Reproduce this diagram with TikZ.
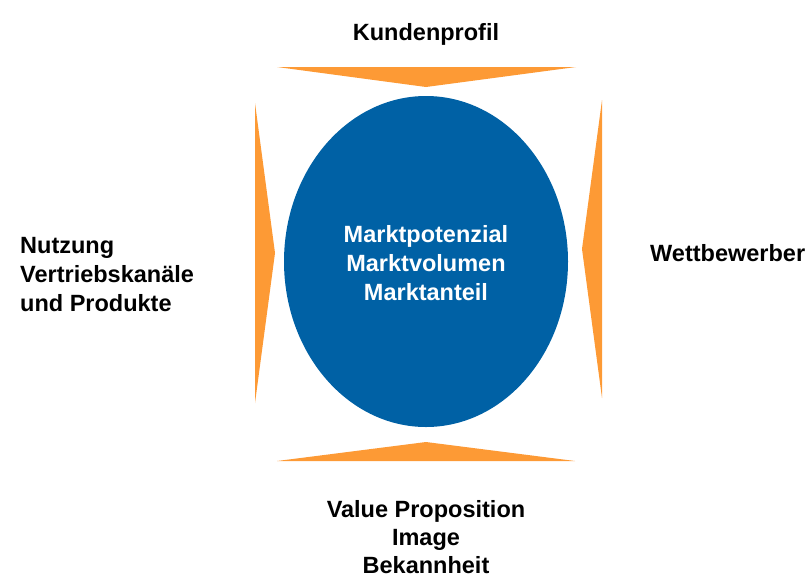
\documentclass[tikz,border=0pt]{standalone}
\usepackage{fontspec}
\setmainfont{Liberation Sans}
\definecolor{keilorange}{RGB}{253,154,53}
\definecolor{kreisblau}{RGB}{0,97,165}

\begin{document}
\begin{tikzpicture}[x=1pt,y=-1pt,
    label/.style={font=\fontsize{23.5}{29}\selectfont\bfseries,inner sep=0pt},
    keil/.style={fill=keilorange,draw=none}]
  \useasboundingbox (0,0) rectangle (808,579);
  % Keile
  \fill[keil] (277,67) -- (576,67) -- (426,87) -- cycle;
  \fill[keil] (277,461) -- (575,461) -- (426,442) -- cycle;
  \fill[keil] (255,103) -- (255,403) -- (275,253) -- cycle;
  \fill[keil] (602,100) -- (602,398) -- (582,249) -- cycle;
  % Markt
  \fill[kreisblau] (426,261.5) ellipse [x radius=142, y radius=165.5];
  \node[label,text=white,align=center] (markt) at (426,263)
    {Marktpotenzial\\Marktvolumen\\Marktanteil};
  \node[label] (kunde) at (426,34) {Kundenprofil};
  \node[label,anchor=west] (wettb) at (650,253) {Wettbewerber};
  \node[label,anchor=west,align=left] (nutzung) at (20,275)
    {Nutzung\\Vertriebskanäle\\und Produkte};
  \node[label,align=center,font=\fontsize{23.5}{28}\selectfont\bfseries] (value) at (426,537)
    {Value Proposition\\Image\\Bekannheit};
\end{tikzpicture}
\end{document}
